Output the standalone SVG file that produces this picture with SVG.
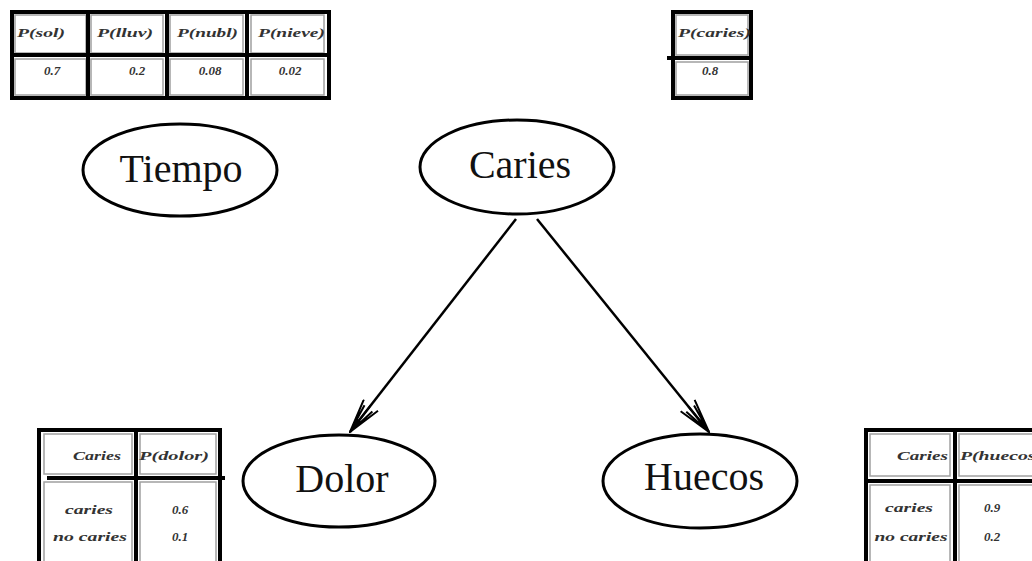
<svg xmlns="http://www.w3.org/2000/svg" width="1032" height="561" viewBox="0 0 1032 561">
  <style>
    .node ellipse { fill: #fff; stroke: #000; stroke-width: 3; }
    .label { font-family: "Liberation Serif", "Times New Roman", serif; font-size: 40px; fill: #111; text-anchor: middle; }
    .thick { stroke: #000; stroke-width: 4; fill: none; }
    .cell { stroke: #a0a0a0; stroke-width: 1.5; fill: none; }
    .t { font-family: "Liberation Serif", "Times New Roman", serif; font-style: italic; font-weight: bold; font-size: 13px; fill: #333; }
    .c { text-anchor: middle; }
    .r { text-anchor: end; }
    .edge { stroke: #000; stroke-width: 2.5; fill: none; }
  </style>
  <defs>
    <marker id="vee" markerUnits="userSpaceOnUse" viewBox="0 0 36 20" markerWidth="36" markerHeight="20" refX="35" refY="10" orient="auto">
      <path d="M1,1 L35,10 L1,19 M5,5 L35,10 L5,15 M2,10 L35,10" stroke="#000" stroke-width="2" fill="none"/>
      <path d="M20,6 L35,10 L20,14 Z" fill="#000"/>
    </marker>
  </defs>
  <rect width="1032" height="561" fill="#fff"/>

  <!-- weather prior table -->
  <g id="table-tiempo">
    <rect class="cell" x="15" y="15" width="71" height="38"/>
    <rect class="cell" x="91" y="15" width="72" height="38"/>
    <rect class="cell" x="170" y="15" width="73" height="38"/>
    <rect class="cell" x="251" y="15" width="73" height="38"/>
    <rect class="cell" x="15" y="59" width="71" height="36"/>
    <rect class="cell" x="91" y="59" width="72" height="36"/>
    <rect class="cell" x="170" y="59" width="73" height="36"/>
    <rect class="cell" x="251" y="59" width="73" height="36"/>
    <rect class="thick" x="12" y="12" width="317" height="86"/>
    <path class="thick" d="M12,55 H329 M88,12 V98 M167,12 V98 M247,12 V98"/>
    <text class="t" x="17" y="37" textLength="48" lengthAdjust="spacingAndGlyphs">P(sol)</text>
    <text class="t" x="97" y="37" textLength="56" lengthAdjust="spacingAndGlyphs">P(lluv)</text>
    <text class="t" x="177" y="37" textLength="61" lengthAdjust="spacingAndGlyphs">P(nubl)</text>
    <text class="t" x="258" y="37" textLength="67" lengthAdjust="spacingAndGlyphs">P(nieve)</text>
    <text class="t c" x="52" y="75">0.7</text>
    <text class="t c" x="137" y="75">0.2</text>
    <text class="t c" x="210" y="75">0.08</text>
    <text class="t c" x="290" y="75">0.02</text>
  </g>

  <!-- caries prior table -->
  <g id="table-caries">
    <rect class="cell" x="676" y="15" width="72" height="40"/>
    <rect class="cell" x="676" y="62" width="72" height="33"/>
    <rect class="thick" x="673" y="12" width="78" height="86"/>
    <path class="thick" d="M667,58 H751"/>
    <text class="t" x="678" y="37" textLength="73" lengthAdjust="spacingAndGlyphs">P(caries)</text>
    <text class="t c" x="710" y="75">0.8</text>
  </g>

  <!-- pain conditional table -->
  <g id="table-dolor">
    <rect class="cell" x="44" y="434" width="88" height="40"/>
    <rect class="cell" x="140" y="434" width="76" height="40"/>
    <rect class="cell" x="44" y="482" width="88" height="82"/>
    <rect class="cell" x="140" y="482" width="76" height="82"/>
    <path class="thick" d="M39,565 V430 H220 V565" stroke-width="5"/>
    <path class="thick" d="M136,430 V565 M47,478 H225"/>
    <text class="t r" x="121" y="460" textLength="48" lengthAdjust="spacingAndGlyphs">Caries</text>
    <text class="t" x="139" y="460" textLength="70" lengthAdjust="spacingAndGlyphs">P(dolor)</text>
    <text class="t c" x="89" y="514" textLength="48" lengthAdjust="spacingAndGlyphs">caries</text>
    <text class="t c" x="90" y="541" textLength="74" lengthAdjust="spacingAndGlyphs">no caries</text>
    <text class="t c" x="180" y="514">0.6</text>
    <text class="t c" x="180" y="541">0.1</text>
  </g>

  <!-- holes conditional table -->
  <g id="table-huecos">
    <rect class="cell" x="870" y="434" width="80" height="42"/>
    <rect class="cell" x="959" y="434" width="80" height="42"/>
    <rect class="cell" x="870" y="485" width="80" height="80"/>
    <rect class="cell" x="959" y="485" width="80" height="80"/>
    <path class="thick" d="M866,565 V430 H1040" stroke-width="5"/>
    <path class="thick" d="M955,430 V565 M864,481 H1040"/>
    <text class="t r" x="948" y="460" textLength="51" lengthAdjust="spacingAndGlyphs">Caries</text>
    <text class="t" x="960" y="460" textLength="82" lengthAdjust="spacingAndGlyphs">P(huecos)</text>
    <text class="t c" x="909" y="512" textLength="48" lengthAdjust="spacingAndGlyphs">caries</text>
    <text class="t c" x="911" y="541" textLength="73" lengthAdjust="spacingAndGlyphs">no caries</text>
    <text class="t c" x="992" y="512">0.9</text>
    <text class="t c" x="992" y="541">0.2</text>
  </g>

  <!-- variable nodes -->
  <g id="node-tiempo" class="node">
    <ellipse cx="180" cy="170" rx="97" ry="46"/>
    <text class="label" x="181" y="182">Tiempo</text>
  </g>
  <g id="node-caries" class="node">
    <ellipse cx="517" cy="167" rx="97" ry="47"/>
    <text class="label" x="520" y="178">Caries</text>
  </g>
  <g id="node-dolor" class="node">
    <ellipse cx="339" cy="481" rx="96" ry="46"/>
    <text class="label" x="342" y="492">Dolor</text>
  </g>
  <g id="node-huecos" class="node">
    <ellipse cx="700" cy="481" rx="97" ry="47"/>
    <text class="label" x="704" y="490">Huecos</text>
  </g>

  <!-- dependencies -->
  <g id="connectors">
    <line class="edge" x1="516" y1="219" x2="350" y2="432" marker-end="url(#vee)"/>
    <line class="edge" x1="537" y1="219" x2="709" y2="432" marker-end="url(#vee)"/>
  </g>
</svg>
